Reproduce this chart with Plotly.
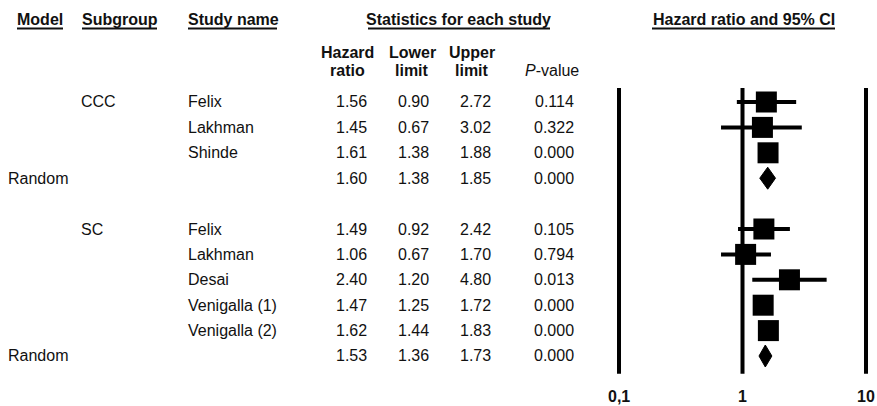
import numpy as np
import plotly.graph_objects as go

# ---------------- data ----------------
subgroups = ["CCC", "SC"]
study_subgroup = ["CCC", "CCC", "CCC", "SC", "SC", "SC", "SC", "SC"]
study_names = ["Felix", "Lakhman", "Shinde", "Felix", "Lakhman", "Desai",
               "Venigalla (1)", "Venigalla (2)"]
hazard_ratio = [1.56, 1.45, 1.61, 1.49, 1.06, 2.40, 1.47, 1.62]
lower_limit = [0.90, 0.67, 1.38, 0.92, 0.67, 1.20, 1.25, 1.44]
upper_limit = [2.72, 3.02, 1.88, 2.42, 1.70, 4.80, 1.72, 1.83]
p_value = ["0.114", "0.322", "0.000", "0.105", "0.794", "0.013", "0.000", "0.000"]

pooled_model = ["Random", "Random"]
pooled_hr = [1.60, 1.53]
pooled_lower = [1.38, 1.36]
pooled_upper = [1.85, 1.73]
pooled_p = ["0.000", "0.000"]

axis_ticks = [0.1, 1, 10]
axis_tick_labels = ["0,1", "1", "10"]

# ---------------- layout helpers ----------------
W, H = 877, 406
FONT = "Arial, Liberation Sans, sans-serif"
ROW_PX = 25.4
ROW0_PX = 102.0
Y_TOP, Y_BOT = -0.7, 10.9


def px(x):
    return x / W


def py(y):
    return 1 - y / H


# build row indices
rows = []  # (kind, index in arrays, row)
r = 0
for gi, sg in enumerate(subgroups):
    for si, s in enumerate(study_subgroup):
        if s == sg:
            rows.append(("study", si, r))
            r += 1
    rows.append(("pooled", gi, r))
    r += 2  # blank line after pooled row

fig = go.Figure()

# reference vertical lines
for v in axis_ticks:
    fig.add_trace(go.Scatter(x=[v, v], y=[-0.55, 10.7], mode="lines",
                             line=dict(color="black", width=4),
                             hoverinfo="skip", showlegend=False))

annotations = []


def add_text(text, x, y, xanchor="left", yref="y", size=16, bold=False):
    annotations.append(dict(
        text=("<b>%s</b>" % text) if bold else text,
        x=x, y=y, xref="paper", yref=yref, xanchor=xanchor, yanchor="middle",
        showarrow=False, font=dict(family=FONT, size=size, color="#111111")))


COL_SUB = 79
COL_MODEL = 6
COL_STUDY = 186
COL_HR = 369
COL_LO = 431
COL_UP = 493
COL_P = 576

for kind, i, row in rows:
    if kind == "study":
        fig.add_trace(go.Scatter(x=[lower_limit[i], upper_limit[i]], y=[row, row],
                                 mode="lines", line=dict(color="black", width=4),
                                 hoverinfo="skip", showlegend=False))
        fig.add_trace(go.Scatter(x=[hazard_ratio[i]], y=[row], mode="markers",
                                 marker=dict(symbol="square", size=21, color="black",
                                             line=dict(width=0)),
                                 hoverinfo="skip", showlegend=False, cliponaxis=False))
        # subgroup label on first study of the subgroup
        if i == study_subgroup.index(study_subgroup[i]):
            add_text(study_subgroup[i], px(COL_SUB), row)
        add_text(study_names[i], px(COL_STUDY), row)
        add_text("%.2f" % hazard_ratio[i], px(COL_HR), row, "right")
        add_text("%.2f" % lower_limit[i], px(COL_LO), row, "right")
        add_text("%.2f" % upper_limit[i], px(COL_UP), row, "right")
        add_text(p_value[i], px(COL_P), row, "right")
    else:
        h = 0.433
        lo, hr, hi = pooled_lower[i], pooled_hr[i], pooled_upper[i]
        fig.add_trace(go.Scatter(x=[lo, hr, hi, hr, lo], y=[row, row - h, row, row + h, row],
                                 mode="lines", fill="toself", fillcolor="black",
                                 line=dict(color="black", width=1),
                                 hoverinfo="skip", showlegend=False))
        add_text(pooled_model[i], px(COL_MODEL), row)
        add_text("%.2f" % hr, px(COL_HR), row, "right")
        add_text("%.2f" % lo, px(COL_LO), row, "right")
        add_text("%.2f" % hi, px(COL_UP), row, "right")
        add_text(pooled_p[i], px(COL_P), row, "right")

# top headers
HEAD_Y = py(19)
add_text("Model", px(40), HEAD_Y, "center", "paper", bold=True)
add_text("Subgroup", px(80), HEAD_Y, "left", "paper", bold=True)
add_text("Study name", px(186), HEAD_Y, "left", "paper", bold=True)
add_text("Statistics for each study", px(459), HEAD_Y, "center", "paper", bold=True)
add_text("Hazard ratio and 95% CI", px(743.5), HEAD_Y, "center", "paper", bold=True)

# column headers
add_text("Hazard", px(347), py(52), "center", "paper", bold=True)
add_text("ratio", px(347), py(70), "center", "paper", bold=True)
add_text("Lower", px(412), py(52), "center", "paper", bold=True)
add_text("limit", px(412), py(70), "center", "paper", bold=True)
add_text("Upper", px(472), py(52), "center", "paper", bold=True)
add_text("limit", px(472), py(70), "center", "paper", bold=True)
add_text("<i>P</i>-value", px(552), py(70), "center", "paper")

# axis tick labels
for v, lab in zip(axis_ticks, axis_tick_labels):
    annotations.append(dict(text="<b>%s</b>" % lab, x=np.log10(v), y=py(396),
                            xref="x", yref="paper", xanchor="center", yanchor="middle",
                            showarrow=False,
                            font=dict(family=FONT, size=16, color="#111111")))

# header underlines
shapes = []
for x0, x1 in [(17, 63), (82, 157), (188, 277), (368, 550), (652, 835)]:
    shapes.append(dict(type="line", xref="paper", yref="paper",
                       x0=px(x0), x1=px(x1), y0=py(28.5), y1=py(28.5),
                       line=dict(color="#111111", width=2)))

dec_px = 123.5
x_lo, x_hi = -1.03, 1.03
left_px = 619 - 0.03 * dec_px
right_px = 866 + 0.03 * dec_px
top_px = ROW0_PX + Y_TOP * ROW_PX
bot_px = ROW0_PX + Y_BOT * ROW_PX

fig.update_layout(
    width=W, height=H,
    margin=dict(l=0, r=0, t=0, b=0),
    paper_bgcolor="white", plot_bgcolor="white",
    showlegend=False,
    xaxis=dict(type="log", range=[x_lo, x_hi], domain=[px(left_px), px(right_px)],
               showgrid=False, zeroline=False, showticklabels=False, showline=False,
               ticks="", fixedrange=True),
    yaxis=dict(range=[Y_BOT, Y_TOP], domain=[py(bot_px), py(top_px)],
               showgrid=False, zeroline=False, showticklabels=False, showline=False,
               ticks="", fixedrange=True),
    annotations=annotations,
    shapes=shapes,
)

fig.write_html("out.html", config={"displayModeBar": False},
               post_script="document.body.style.margin='0';")
